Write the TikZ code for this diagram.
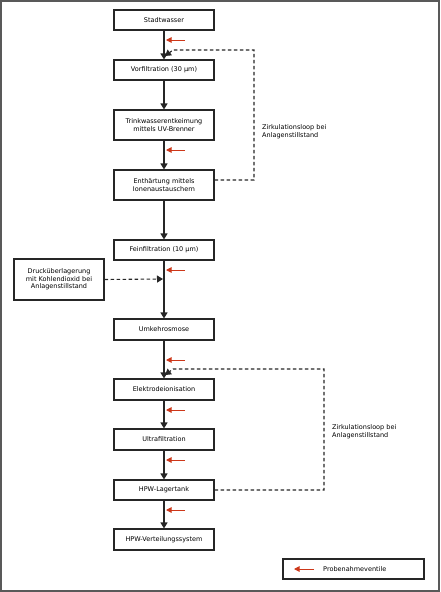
\documentclass[tikz,border=0pt]{standalone}
\usepackage{fontspec}
\setmainfont{DejaVu Sans}
\usetikzlibrary{arrows.meta}
\begin{document}
\begin{tikzpicture}[x=1pt,y=-1pt,
  box/.style={draw=black!85,line width=1.1pt,fill=white,inner sep=1pt,align=center,font=\fontsize{6.5}{7.6}\selectfont},
  flow/.style={draw=black!85,line width=1.2pt,-{Triangle[length=6pt,width=7pt]}},
  loop/.style={draw=black!85,line width=1.1pt,dash pattern=on 3.5pt off 2.5pt,-{Triangle[length=6pt,width=7pt]}},
  valve/.style={draw={rgb,255:red,205;green,55;blue,25},line width=1pt,-{Triangle[length=5.5pt,width=5.5pt]}},
  lbl/.style={font=\fontsize{6.5}{7.8}\selectfont,align=left,anchor=west,inner sep=0pt}]
\useasboundingbox (0,0) rectangle (440,592);
\draw[draw=black!65,line width=1.5pt] (1,1) rectangle (439,591);
\node[box,minimum width=100pt,minimum height=20pt] (s1) at (164,20) {Stadtwasser};
\node[box,minimum width=100pt,minimum height=20pt] (s2) at (164,70) {Vorfiltration (30 µm)};
\node[box,minimum width=100pt,minimum height=30pt] (s3) at (164,125) {Trinkwasserentkeimung\\mittels UV-Brenner};
\node[box,minimum width=100pt,minimum height=30pt] (s4) at (164,185) {Enthärtung mittels\\Ionenaustauschern};
\node[box,minimum width=100pt,minimum height=20pt] (s5) at (164,250) {Feinfiltration (10 µm)};
\node[box,minimum width=90pt,minimum height=41pt] (co) at (59,279.5) {Drucküberlagerung\\mit Kohlendioxid bei\\Anlagenstillstand};
\node[box,minimum width=100pt,minimum height=21pt] (s6) at (164,329.5) {Umkehrosmose};
\node[box,minimum width=100pt,minimum height=21pt] (s7) at (164,389.5) {Elektrodeionisation};
\node[box,minimum width=100pt,minimum height=21pt] (s8) at (164,439.5) {Ultrafiltration};
\node[box,minimum width=100pt,minimum height=20pt] (s9) at (164,490) {HPW-Lagertank};
\node[box,minimum width=100pt,minimum height=21pt] (s10) at (164,539.5) {HPW-Verteilungssystem};
\node[box,minimum width=141pt,minimum height=20pt] (leg) at (353.5,569) {};
\node[lbl] (legt) at (323,569) {Probenahmeventile};
% main flow
\draw[flow] (s1) -- (s2);
\draw[flow] (s2) -- (s3);
\draw[flow] (s3) -- (s4);
\draw[flow] (s4) -- (s5);
\draw[flow] (s5) -- (s6);
\draw[flow] (s6) -- (s7);
\draw[flow] (s7) -- (s8);
\draw[flow] (s8) -- (s9);
\draw[flow] (s9) -- (s10);
% loops
\coordinate (j1) at (165,56);
\coordinate (j2) at (165,375);
\coordinate (j3) at (163,279);
\draw[loop] ([yshift=5pt]s4.east) -- (254,180) -- (254,50) -- (173,50) -- (j1);
\draw[loop] (s9.east) -- (324,490) -- (324,369) -- (173,369) -- (j2);
\draw[loop] (co.east) -- (j3);
\node[lbl] (l1) at (262,132) {Zirkulationsloop bei\\Anlagenstillstand};
\node[lbl] (l2) at (332,432) {Zirkulationsloop bei\\Anlagenstillstand};
% sampling valves
\foreach \n/\y in {v1/40,v2/150,v3/270,v4/360,v5/410,v6/460,v7/510}{
  \coordinate (\n a) at (185,\y);
  \coordinate (\n b) at (166,\y);
  \draw[valve] (\n a) -- (\n b);
}
\coordinate (lva) at (314,569);
\coordinate (lvb) at (294,569);
\draw[valve] (lva) -- (lvb);
\end{tikzpicture}
\end{document}
